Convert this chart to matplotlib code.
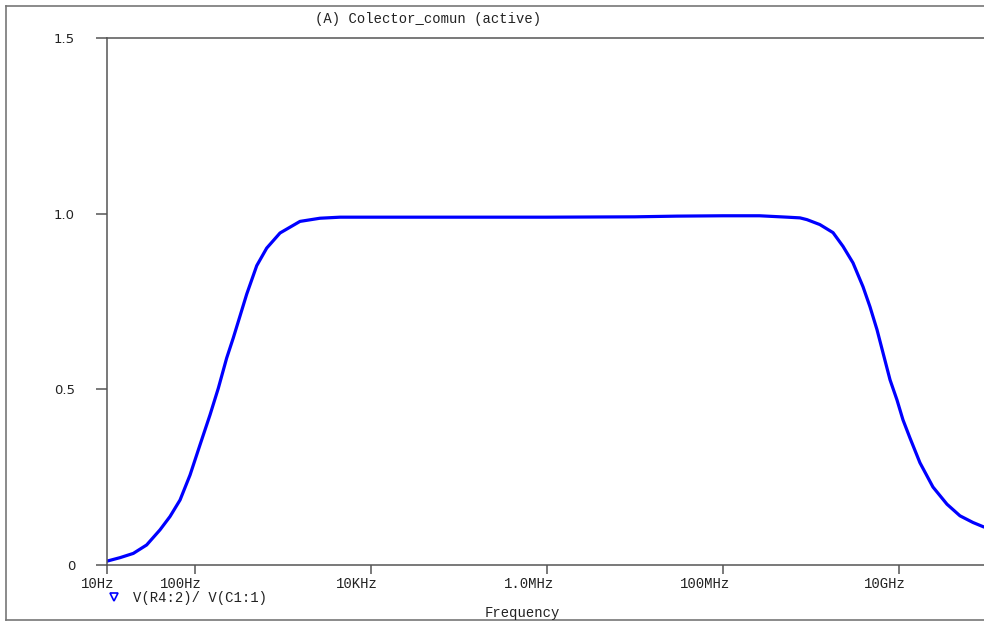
import matplotlib
matplotlib.use("Agg")
import matplotlib.pyplot as plt
import matplotlib.transforms as mtransforms
from matplotlib.lines import Line2D
from matplotlib.ticker import NullLocator

# Gain curve V(R4:2)/V(C1:1) versus frequency (Hz)
freq_hz = [
    10, 14.1, 19.9, 28.2, 40.0, 52.0, 67.6, 87.8, 114, 148, 184, 229, 272,
    324, 387, 503, 653, 925, 1560, 2630, 4450, 1e4, 1e5, 1e6, 1e7, 3e7,
    1e8, 2.6e8, 5.4e8, 7.5e8, 9.0e8, 1.26e9, 1.78e9, 2.31e9, 3.0e9, 3.9e9,
    4.68e9, 5.62e9, 6.58e9, 7.91e9, 9.48e9, 1.11e10, 1.33e10, 1.73e10,
    2.43e10, 3.51e10, 4.93e10, 6.93e10, 9.25e10,
]
gain = [
    0.011, 0.021, 0.033, 0.057, 0.100, 0.138, 0.185, 0.256, 0.342, 0.427,
    0.503, 0.589, 0.646, 0.708, 0.771, 0.852, 0.902, 0.945, 0.978, 0.987,
    0.990, 0.990, 0.990, 0.990, 0.991, 0.993, 0.994, 0.994, 0.990, 0.988,
    0.983, 0.969, 0.946, 0.907, 0.860, 0.792, 0.735, 0.670, 0.604, 0.527,
    0.470, 0.413, 0.362, 0.291, 0.222, 0.173, 0.140, 0.121, 0.108,
]

x_ticks = [1e1, 1e2, 1e4, 1e6, 1e8, 1e10]
x_tick_labels = ["10Hz", "100Hz", "10KHz", "1.0MHz", "100MHz", "10GHz"]
y_ticks = [0, 0.5, 1.0, 1.5]
y_tick_labels = ["0", "0.5", "1.0", "1.5"]

title_text = "(A) Colector_comun (active)"
trace_name = "V(R4:2)/ V(C1:1)"
x_label = "Frequency"

W, H, DPI = 984, 621, 100
fig = plt.figure(figsize=(W / DPI, H / DPI), dpi=DPI)
fig.patch.set_facecolor("white")

mono = "Liberation Mono"
axis_col = "#555555"
text_col = "#222222"

# plot area in pixels: x 107..987, y 38..565
left, right, top, bottom = 107, 987, 38, 565
ax = fig.add_axes([left / W, 1 - bottom / H, (right - left) / W, (bottom - top) / H])
ax.set_xscale("log")
ax.set_xlim(1e1, 1e11)
ax.set_ylim(0, 1.5)

ax.plot(freq_hz, gain, color="#0000ff", lw=2.3, solid_joinstyle="round",
        solid_capstyle="round")

ax.spines["right"].set_visible(False)
for side in ("left", "top", "bottom"):
    ax.spines[side].set_color(axis_col)
    ax.spines[side].set_linewidth(1.1)

ax.xaxis.set_minor_locator(NullLocator())
ax.set_xticks(x_ticks)
ax.set_xticklabels(x_tick_labels, fontfamily=mono, fontsize=10, color=text_col)
ax.set_yticks(y_ticks)
ax.set_yticklabels(y_tick_labels, fontfamily="DejaVu Sans", fontsize=9.5, color=text_col)
ax.tick_params(axis="x", direction="out", length=6.5, width=1.1, color=axis_col, pad=2.5)
ax.tick_params(axis="y", direction="out", length=8, width=1.1, color=axis_col, pad=15)

shift = mtransforms.ScaledTranslation(7 / DPI, 0, fig.dpi_scale_trans)
for lab in ax.get_xticklabels():
    lab.set_horizontalalignment("right")
    lab.set_transform(lab.get_transform() + shift)

# title
fig.text(428 / W, 1 - 19 / H, title_text, ha="center", va="center",
         fontfamily=mono, fontsize=10, color=text_col)

# trace legend
fig.add_artist(Line2D([114 / W], [1 - 597 / H], marker="v", markersize=5.5,
                      markerfacecolor="none", markeredgecolor="#0000ff",
                      markeredgewidth=1.2, linestyle="none"))
fig.text(133 / W, 1 - 598 / H, trace_name, ha="left", va="center",
         fontfamily=mono, fontsize=10, color=text_col)

# axis name
fig.text(522 / W, 1 - 617 / H, x_label, ha="center", va="baseline",
         fontfamily=mono, fontsize=10, color=text_col)

# window frame
frame_col = "#777777"
fig.add_artist(Line2D([6 / W, 6 / W], [1 - 6 / H, 1 - 619.5 / H], color=frame_col, lw=1.2))
fig.add_artist(Line2D([6 / W, 1.0], [1 - 6 / H, 1 - 6 / H], color=frame_col, lw=1.2))
fig.add_artist(Line2D([6 / W, 1.0], [1 - 619.5 / H, 1 - 619.5 / H], color=frame_col, lw=1.2))

fig.savefig("out.png", dpi=DPI)
